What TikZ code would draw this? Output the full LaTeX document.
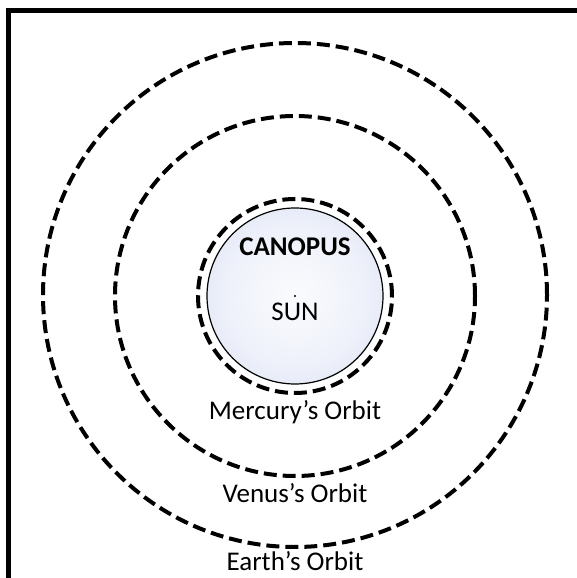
\documentclass[tikz,border=0pt]{standalone}
\usepackage{fontspec}
\setmainfont{Carlito}
\usetikzlibrary{positioning,calc}

\definecolor{sunedge}{RGB}{198,208,238}
\pgfdeclareradialshading{sunglow}{\pgfpoint{0bp}{0bp}}{%
  color(0bp)=(white!92!sunedge); color(20bp)=(white!70!sunedge);
  color(50bp)=(sunedge); color(60bp)=(sunedge)}

\begin{document}
\begin{tikzpicture}[
    x=1pt, y=1pt,
    orbit/.style={circle, draw=black, line width=4pt, dash pattern=on 13pt off 6pt,
                inner sep=0pt},
    sun/.style={circle, draw=black, line width=1.2pt, shading=sunglow,
                inner sep=0pt, minimum size=176pt},
    label/.style={font=\fontsize{27}{30}\selectfont, inner sep=0pt},
    frame/.style={line width=5pt}
]
    \useasboundingbox (0,0) rectangle (577,578);

    % orbits and the star
    \node[orbit, minimum size=504pt] (earth) at (295,283) {};
    \node[orbit, minimum size=360pt] (venus) at (295,282) {};
    \node[orbit, minimum size=194pt] (mercury) at (295,282) {};
    \node[sun] (sun) at (295,282) {};
    \node[circle, fill=black, inner sep=0pt, minimum size=2.4pt] (centre) at (sun.center) {};

    \node[font=\fontsize{27}{30}\selectfont\bfseries, inner sep=0pt] (canopus) at (295,331.5) {CANOPUS};
    \node[label, below=5pt of centre] (sunlabel) {SUN};

    \node[label, below=5pt of mercury.south] (mercurylabel) {Mercury’s Orbit};
    \node[label, below=5pt of venus.south] (venuslabel) {Venus’s Orbit};
    \node[label, below=2pt of earth.south] (earthlabel) {Earth’s Orbit};

    % frame
    \coordinate (fbl) at (8.5,-5);
    \coordinate (ftl) at (8.5,567.5);
    \coordinate (ftr) at (585,567.5);
    \draw[frame] (fbl) -- (ftl) -- (ftr);
\end{tikzpicture}
\end{document}
